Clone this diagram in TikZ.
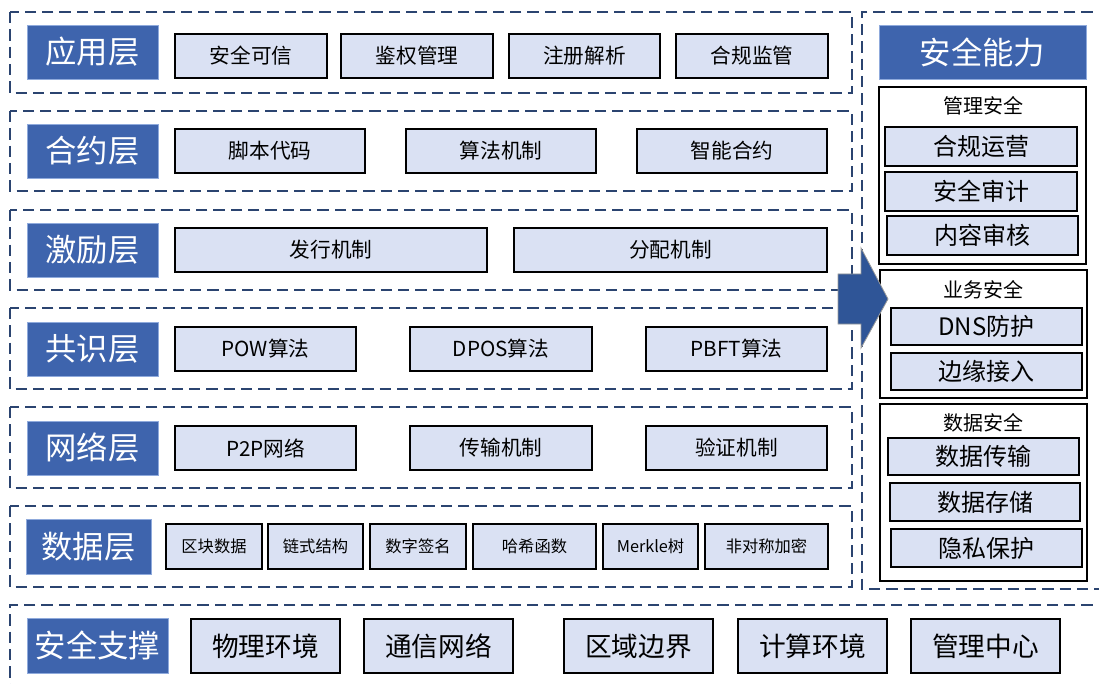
\documentclass[tikz,border=0pt]{standalone}
\usepackage{fontspec}
\setmainfont{Noto Sans CJK SC}
\definecolor{lblue}{HTML}{3E64AD}
\definecolor{lborder}{HTML}{8FAADC}
\definecolor{itemfill}{HTML}{DAE1F3}
\definecolor{dashcol}{HTML}{2B4470}
\definecolor{arrowfill}{HTML}{2F5597}
\newcommand\bx[7]{\node[#6, minimum width={(#4-#2)*0.75pt}, minimum height={(#5-#3)*0.75pt}] (#1) at ({(#2+#4)/2},{(#3+#5)/2}) {#7};}
\tikzset{
  base/.style={inner sep=0pt, outer sep=0pt, rectangle},
  layerlabel/.style={base, fill=lblue, draw=lborder, line width=0.6pt, text=white, font=\fontsize{23.5}{25}\selectfont},
  item/.style={base, fill=itemfill, draw=black, line width=1.2pt, font=\fontsize{15.5}{17}\selectfont},
  smallitem/.style={item, font=\fontsize{12.2}{14}\selectfont},
  bigitem/.style={item, font=\fontsize{20}{22}\selectfont},
  sideitem/.style={item, font=\fontsize{18}{20}\selectfont},
  group/.style={base, fill=white, draw=black, line width=1.1pt},
  grouptitle/.style={inner sep=0pt, font=\fontsize{15}{17}\selectfont},
  layerbox/.style={draw=dashcol, line width=1.3pt, dash pattern=on 8.5pt off 4.5pt},
}
\begin{document}
\begin{tikzpicture}[x=0.75pt,y=-0.75pt]
\useasboundingbox (0,0) rectangle (1099,684);
\clip (0,0) rectangle (1099,684);
% dashed layer frames
\draw[layerbox] (10,12) rectangle (852,93);
\draw[layerbox] (10,111) rectangle (852,191);
\draw[layerbox] (10,210) rectangle (852,290);
\draw[layerbox] (10,308) rectangle (852,389);
\draw[layerbox] (10,407) rectangle (852,488);
\draw[layerbox] (10,506) rectangle (852,587);
\draw[layerbox] (1110,12) -- (862,12) -- (862,589) -- (1110,589);
\draw[layerbox] (1110,605) -- (10,605) -- (10,700);
% layer labels
\bx{l1}{27}{25}{158}{79}{layerlabel}{应用层}
\bx{l2}{27}{124}{158}{178}{layerlabel}{合约层}
\bx{l3}{27}{223}{158}{277}{layerlabel}{激励层}
\bx{l4}{27}{322}{158}{376}{layerlabel}{共识层}
\bx{l5}{27}{421}{158}{475}{layerlabel}{网络层}
\bx{l6}{26}{519}{151}{574}{layerlabel}{数据层}
\bx{l7}{27}{618}{168}{673}{layerlabel}{安全支撑}
% application layer
\bx{a1}{175}{34}{327}{78}{item}{安全可信}
\bx{a2}{341}{34}{493}{78}{item}{鉴权管理}
\bx{a3}{509}{34}{660}{78}{item}{注册解析}
\bx{a4}{676}{34}{828}{78}{item}{合规监管}
% contract layer
\bx{c1}{175}{129}{365}{173}{item}{脚本代码}
\bx{c2}{406}{129}{596}{173}{item}{算法机制}
\bx{c3}{637}{129}{827}{173}{item}{智能合约}
% incentive layer
\bx{i1}{175}{228}{487}{272}{item}{发行机制}
\bx{i2}{514}{228}{827}{272}{item}{分配机制}
% consensus layer
\bx{s1}{175}{327}{356}{371}{item}{POW算法}
\bx{s2}{410}{327}{592}{371}{item}{DPOS算法}
\bx{s3}{646}{327}{827}{371}{item}{PBFT算法}
% network layer
\bx{n1}{175}{426}{356}{470}{item}{P2P网络}
\bx{n2}{410}{426}{592}{470}{item}{传输机制}
\bx{n3}{646}{426}{827}{470}{item}{验证机制}
% data layer
\bx{d1}{166}{524}{262}{569}{smallitem}{区块数据}
\bx{d2}{268}{524}{363}{569}{smallitem}{链式结构}
\bx{d3}{370}{524}{466}{569}{smallitem}{数字签名}
\bx{d4}{473}{524}{596}{569}{smallitem}{哈希函数}
\bx{d5}{603}{524}{698}{569}{smallitem}{Merkle树}
\bx{d6}{705}{524}{828}{569}{smallitem}{非对称加密}
% support layer
\bx{b1}{191}{619}{340}{673}{bigitem}{物理环境}
\bx{b2}{364}{619}{513}{673}{bigitem}{通信网络}
\bx{b3}{564}{619}{713}{673}{bigitem}{区域边界}
\bx{b4}{738}{619}{887}{673}{bigitem}{计算环境}
\bx{b5}{911}{619}{1060}{673}{bigitem}{管理中心}
% security capability panel
\bx{cap}{879}{25}{1086}{79}{layerlabel}{安全能力}
\bx{g1}{879}{87}{1086}{264}{group}{}
\node[grouptitle] (g1t) at (983,106) {管理安全};
\bx{g1a}{885}{127}{1077}{166}{sideitem}{合规运营}
\bx{g1b}{885}{172}{1077}{211}{sideitem}{安全审计}
\bx{g1c}{887}{216}{1078}{255}{sideitem}{内容审核}
\bx{g2}{880}{270}{1087}{398}{group}{}
\node[grouptitle] (g2t) at (983,290) {业务安全};
\bx{g2a}{891}{308}{1082}{345}{sideitem}{DNS防护}
\bx{g2b}{891}{353}{1082}{390}{sideitem}{边缘接入}
\bx{g3}{880}{404}{1087}{581}{group}{}
\node[grouptitle] (g3t) at (983,423) {数据安全};
\bx{g3a}{888}{438}{1079}{475}{sideitem}{数据传输}
\bx{g3b}{890}{483}{1080}{521}{sideitem}{数据存储}
\bx{g3c}{891}{529}{1082}{567}{sideitem}{隐私保护}
% block arrow
\draw[fill=arrowfill, draw=gray!80, line width=0.6pt, line join=miter]
  (838,274) -- (861,274) -- (861,248) -- (888,299) -- (861,348) -- (861,324) -- (838,324) -- cycle;
\end{tikzpicture}
\end{document}
